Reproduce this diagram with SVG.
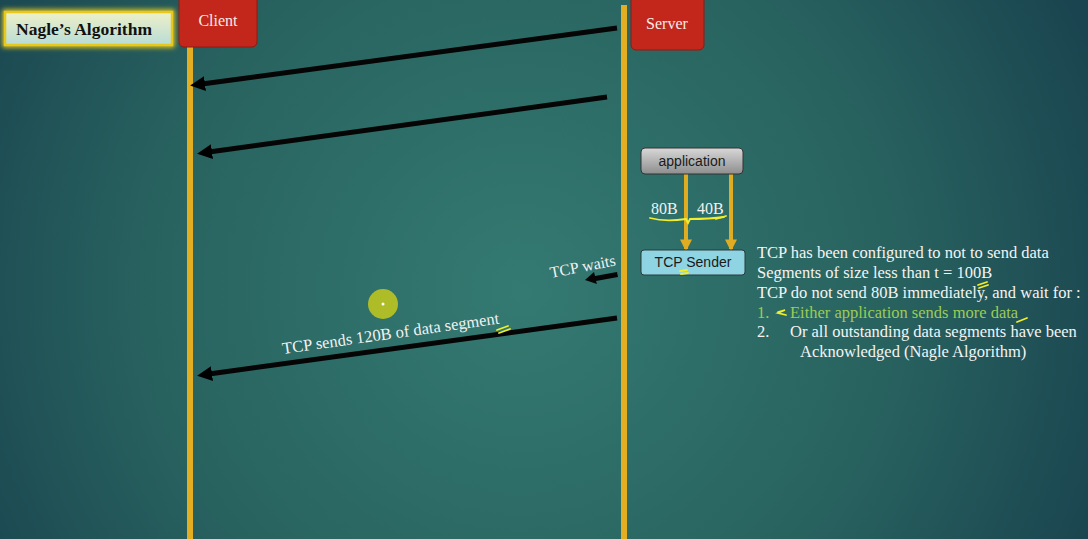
<svg xmlns="http://www.w3.org/2000/svg" width="1088" height="539" viewBox="0 0 1088 539">
<defs>
<radialGradient id="bg" cx="520" cy="290" r="620" gradientUnits="userSpaceOnUse">
<stop offset="0" stop-color="#347a72"/>
<stop offset="0.6" stop-color="#28625f"/>
<stop offset="1" stop-color="#1a4550"/>
</radialGradient>
<linearGradient id="title" x1="0" y1="0" x2="0" y2="1">
<stop offset="0" stop-color="#eef0c8"/>
<stop offset="1" stop-color="#b8dcd6"/>
</linearGradient>
<linearGradient id="app" x1="0" y1="0" x2="0" y2="1">
<stop offset="0" stop-color="#d8d8d8"/>
<stop offset="1" stop-color="#8e8e8e"/>
</linearGradient>
<filter id="glow" x="-20%" y="-40%" width="140%" height="180%">
<feGaussianBlur stdDeviation="2.5"/>
</filter>
<marker id="ah" viewBox="0 0 10 10" refX="2" refY="5" markerWidth="3" markerHeight="3" orient="auto-start-reverse">
<path d="M0,0 L10,5 L0,10 z" fill="#000"/>
</marker>
<marker id="oh" viewBox="0 0 10 10" refX="8" refY="5" markerWidth="3" markerHeight="3" orient="auto">
<path d="M0,0 L10,5 L0,10 z" fill="#e0ac22"/>
</marker>
<style>
.life{stroke:#e3ae22;stroke-width:6;}
.hdr{fill:#c3261a;stroke:#8e1a12;stroke-width:1;}
.hdrt{font-family:"Liberation Serif",serif;font-size:16px;fill:#f4ece6;text-anchor:middle;}
.msg{stroke:#050505;stroke-width:5;fill:none;}
.w{font-family:"Liberation Serif",serif;fill:#f2f2f2;}
.note{font-family:"Liberation Serif",serif;font-size:16.5px;fill:#f4f4f4;}
.scr{stroke:#f2ee2a;stroke-width:1.8;fill:none;stroke-linecap:round;}
.sans{font-family:"Liberation Sans",Arial,sans-serif;font-size:14px;fill:#1a1a1a;text-anchor:middle;}
</style>
</defs>
<rect width="1088" height="539" fill="url(#bg)"/>

<g id="client">
<line class="life" x1="190" y1="40" x2="190" y2="539"/>
<rect class="hdr" x="179" y="-6" width="78" height="53" rx="5"/>
<text class="hdrt" x="218" y="26">Client</text>
</g>
<g id="server">
<line class="life" x1="624" y1="5" x2="624" y2="539"/>
<rect class="hdr" x="631" y="-6" width="73" height="56" rx="5"/>
<text class="hdrt" x="667" y="29">Server</text>
</g>
<g id="title">
<rect x="5" y="12" width="167" height="33" fill="none" stroke="#f0d020" stroke-width="5" filter="url(#glow)"/>
<rect x="5" y="12" width="167" height="33" fill="url(#title)" stroke="#e8c818" stroke-width="2.5"/>
<text x="84" y="35" font-family="Liberation Serif,serif" font-weight="bold" font-size="17.5" fill="#111" text-anchor="middle">Nagle’s Algorithm</text>
</g>

<g id="connectors">
<line class="msg" x1="617" y1="28" x2="202" y2="84" marker-end="url(#ah)"/>
<line class="msg" x1="607" y1="97" x2="209" y2="152" marker-end="url(#ah)"/>
<line class="msg" x1="617" y1="318" x2="209" y2="374" marker-end="url(#ah)"/>
<path d="M617,272 L595,276 L594,272 L585,280 L597,284 L596,281 L618,277 z" fill="#050505"/>
<line x1="686" y1="174" x2="686" y2="249" stroke="#e0ac22" stroke-width="4" marker-end="url(#oh)"/>
<line x1="731" y1="174" x2="731" y2="249" stroke="#e0ac22" stroke-width="4" marker-end="url(#oh)"/>
</g>

<g id="application">
<rect x="641" y="148" width="102" height="26" rx="4" fill="url(#app)" stroke="#333" stroke-width="1"/>
<text class="sans" x="692" y="166">application</text>
</g>
<g id="tcp-sender">
<rect x="641" y="250" width="104" height="25" rx="3" fill="#8fd4e2" stroke="#2a3a3c" stroke-width="1"/>
<text class="sans" x="693" y="267">TCP Sender</text>
</g>

<text class="w" font-size="16" x="651" y="214">80B</text>
<text class="w" font-size="16" x="697" y="214">40B</text>

<text class="w" font-size="16.5" transform="translate(283,354) rotate(-8)">TCP sends 120B of data segment</text>
<text class="w" font-size="16" transform="translate(551,278) rotate(-11)">TCP waits</text>

<g id="notes">
<text class="note" x="757" y="258">TCP has been configured to not to send data</text>
<text class="note" x="757" y="278">Segments of size less than t = 100B</text>
<text class="note" x="757" y="298">TCP do not send 80B immediately, and wait for :</text>
<text class="note" x="757" y="318" style="fill:#9ccc58">1.</text>
<text class="note" x="790" y="318" style="fill:#9ccc58">Either application sends more data</text>
<text class="note" x="757" y="337">2.</text>
<text class="note" x="790" y="337">Or all outstanding data segments have been</text>
<text class="note" x="800" y="357">Acknowledged (Nagle Algorithm)</text>
</g>

<g id="scribbles">
<path class="scr" d="M650,218 Q665,222 686,219 L688,223 L690,219 Q710,219 724,217"/>
<path class="scr" d="M716,219 L726,216"/>
<path class="scr" d="M680,271 L687,270 M681,274 L688,273"/>
<path class="scr" d="M978,285 L987,282 M979,288 L988,285"/>
<path class="scr" d="M778,312 L785,310 L778,313 L786,315"/>
<path class="scr" d="M1017,322 Q1022,320 1027,318"/>
<path class="scr" d="M497,330 L508,326 M499,333 L510,329"/>
</g>

<g id="pointer">
<circle cx="383" cy="304" r="15" fill="#bcc420" opacity="0.9"/>
<circle cx="383" cy="304" r="1.5" fill="#ffffff"/>
</g>
</svg>
